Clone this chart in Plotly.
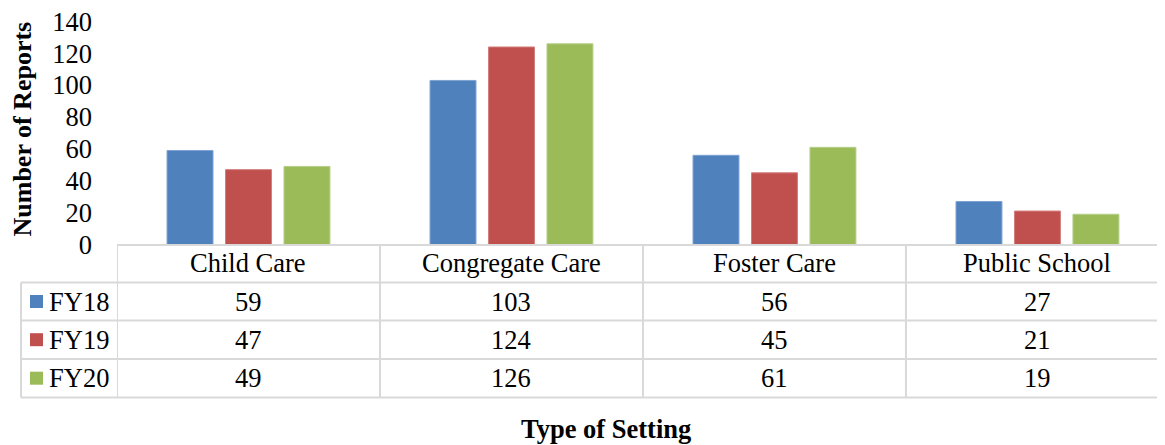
import plotly.graph_objects as go

categories = ["Child Care", "Congregate Care", "Foster Care", "Public School"]
series_names = ["FY18", "FY19", "FY20"]
fy18 = [59, 103, 56, 27]
fy19 = [47, 124, 45, 21]
fy20 = [49, 126, 61, 19]
series_values = [fy18, fy19, fy20]
colors = ["#4F81BD", "#C0504D", "#9BBB59"]
edge_colors = ["#7FA3D3", "#D27E7C", "#B7CF89"]
y_ticks = [0, 20, 40, 60, 80, 100, 120, 140]

# page body has an 8px margin; size the figure so it fills the 1165x445 window
OX, OY = 8, 8
W, H = 1165 - OX, 445 - OY
FONT = "Liberation Serif, Times New Roman, serif"
GRID = "#D9D9D9"


def px(x):
    return (x - OX) / W


def py(y):
    return 1 - (y - OY) / H


fig = go.Figure()
for name, vals, c, ec in zip(series_names, series_values, colors, edge_colors):
    fig.add_trace(go.Bar(
        x=categories, y=vals, name=name,
        marker=dict(color=c, line=dict(color=ec, width=1)),
        showlegend=False,
    ))

shapes = []
shapes.append(dict(type="line", xref="paper", yref="paper",
                   x0=px(117), x1=1, y0=py(245), y1=py(245),
                   line=dict(color=GRID, width=2)))
row_lines = [282.5, 320.5, 359, 397.5]
for yy in row_lines:
    shapes.append(dict(type="line", xref="paper", yref="paper",
                       x0=px(21), x1=1, y0=py(yy), y1=py(yy),
                       line=dict(color=GRID, width=2)))
shapes.append(dict(type="line", xref="paper", yref="paper",
                   x0=px(21), x1=px(21), y0=py(282.5), y1=py(397.5),
                   line=dict(color=GRID, width=2)))
for i in range(len(categories)):
    shapes.append(dict(type="line", xref="x", yref="paper",
                       x0=i - 0.5, x1=i - 0.5, y0=py(245), y1=py(397.5),
                       line=dict(color=GRID, width=2)))

annotations = []
row_centers = [301.5, 339.7, 378.2]
for cat in categories:
    annotations.append(dict(x=cat, xref="x", y=py(263.5), yref="paper",
                            text=cat, showarrow=False,
                            font=dict(family=FONT, size=26.5, color="#000000"),
                            xanchor="center", yanchor="middle"))
for r, (name, vals, c) in enumerate(zip(series_names, series_values, colors)):
    yc = row_centers[r]
    shapes.append(dict(type="rect", xref="paper", yref="paper",
                       x0=px(30), x1=px(43), y0=py(yc - 6.5), y1=py(yc + 6.5),
                       fillcolor=c, line=dict(width=0)))
    annotations.append(dict(x=px(47), xref="paper", y=py(yc), yref="paper",
                            text=name, showarrow=False,
                            font=dict(family=FONT, size=26.5, color="#000000"),
                            xanchor="left", yanchor="middle"))
    for cat, v in zip(categories, vals):
        annotations.append(dict(x=cat, xref="x", y=py(yc), yref="paper",
                                text=str(v), showarrow=False,
                                font=dict(family=FONT, size=26.5, color="#000000"),
                                xanchor="center", yanchor="middle"))

annotations.append(dict(x=px(22), xref="paper", y=py(129.5), yref="paper",
                        text="<b>Number of Reports</b>", showarrow=False, textangle=-90,
                        font=dict(family=FONT, size=26, color="#000000"),
                        xanchor="center", yanchor="middle", borderpad=0))
annotations.append(dict(x=px(606), xref="paper", y=py(429), yref="paper",
                        text="<b>Type of Setting</b>", showarrow=False,
                        font=dict(family=FONT, size=26.5, color="#000000"),
                        xanchor="center", yanchor="middle"))

fig.update_layout(
    width=W, height=H,
    margin=dict(l=0, r=0, t=0, b=0, autoexpand=False),
    paper_bgcolor="white", plot_bgcolor="white",
    barmode="group", bargap=0.333, bargroupgap=0.214,
    shapes=shapes, annotations=annotations,
    xaxis=dict(domain=[px(117), 1], range=[-0.5, 3.485],
               showticklabels=False, showgrid=False, zeroline=False,
               showline=False, ticks="", automargin=False),
    yaxis=dict(domain=[py(244.5), py(21.5)], range=[0, 140],
               tickvals=y_ticks, ticktext=[str(t) for t in y_ticks],
               showgrid=False, zeroline=False, showline=False, ticks="",
               ticklabelstandoff=24, automargin=False, ticklabeloverflow="allow",
               tickfont=dict(family=FONT, size=26.5, color="#000000")),
)

fig.write_html("out.html")
